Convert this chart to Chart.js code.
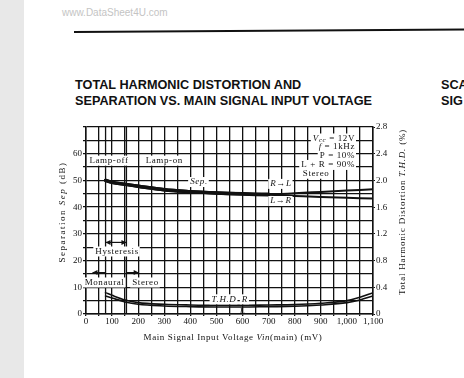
<!DOCTYPE html>
<html>
<head>
<meta charset="utf-8">
<script src="https://cdn.jsdelivr.net/npm/chart.js@4/dist/chart.umd.min.js"></script>
<style>
    html, body { margin: 0; padding: 0; background: #fff; }
    body { width: 464px; height: 378px; position: relative; overflow: hidden; }
    #strip { position: absolute; left: 0; top: 0; width: 24px; height: 378px; background: #e8e8e8; }
    #wm { position: absolute; left: 62px; top: 7px; font: 10px "Liberation Sans", Arial, sans-serif; color: #c4c4c4; }
    #rule { position: absolute; left: 74px; top: 31px; width: 400px; height: 2px; background: #111; transform: rotate(-0.35deg); transform-origin: left center; }
    .title { position: absolute; font: bold 12.7px/12px "Liberation Sans", Arial, sans-serif; color: #111; white-space: nowrap; }
    canvas { position: absolute; left: 0; top: 0; }
</style>
</head>
<body>
<div id="strip"></div>
<div id="wm">www.DataSheet4U.com</div>
<div id="rule"></div>
<div class="title" style="left:75px;top:79px">TOTAL HARMONIC DISTORTION AND</div>
<div class="title" style="left:75px;top:95px">SEPARATION VS. MAIN SIGNAL INPUT VOLTAGE</div>
<div class="title" style="left:441px;top:79px">SCA</div>
<div class="title" style="left:441px;top:95px">SIG</div>
<canvas id="chart" width="464" height="378"></canvas>
<script>
// separation (dB) vs Vin(main) (mV), the two directions split after ~700 mV
const vinSep = [75, 100, 150, 200, 300, 400, 500, 600, 700, 800, 900, 1000, 1100];
const sepRtoL = [50, 49.3, 48.5, 47.8, 46.5, 45.8, 45.3, 45.0, 44.8, 45.2, 45.7, 46.2, 46.7];
const sepLtoR = [50, 49.3, 48.5, 47.8, 46.5, 45.8, 45.3, 44.9, 44.6, 44.2, 43.8, 43.5, 43.2];

// total harmonic distortion (%) vs Vin(main) (mV)
const vinThd = [75, 100, 150, 200, 300, 400, 500, 600, 700, 800, 900, 1000, 1050, 1100];
const thdR = [0.32, 0.28, 0.21, 0.17, 0.145, 0.135, 0.13, 0.13, 0.135, 0.14, 0.16, 0.2, 0.25, 0.32];
const thdL = [0.27, 0.24, 0.18, 0.145, 0.12, 0.11, 0.105, 0.105, 0.11, 0.115, 0.135, 0.17, 0.21, 0.27];

// lamp / mono-stereo switching thresholds (mV)
const switchPoints = [75, 155];

const xTickLabels = ['0', '100', '200', '300', '400', '500', '600', '700', '800', '900', '1,000', '1,100'];
const sepTickLabels = ['0', '10', '20', '30', '40', '50', '60'];
const thdTickLabels = ['0', '0.4', '0.8', '1.2', '1.6', '2.0', '2.4', '2.8'];

const SERIF = '"Liberation Serif", "DejaVu Serif", serif';
const F = `9px ${SERIF}`;
const FI = `italic 9px ${SERIF}`;
const FS = `italic 7px ${SERIF}`;
const INK = '#111';

const toPoints = (xs, ys) => xs.map((x, i) => ({ x: x, y: ys[i] }));

function rich(ctx, parts, x, y, align, box, spacing) {
    ctx.letterSpacing = (spacing === undefined ? 0.6 : spacing) + 'px';
    let w = 0;
    const widths = parts.map(p => {
        ctx.font = p[1];
        const pw = ctx.measureText(p[0]).width;
        w += pw;
        return pw;
    });
    let x0 = align === 'center' ? x - w / 2 : align === 'right' ? x - w : x;
    if (box) {
        ctx.fillStyle = '#fff';
        ctx.fillRect(x0 - 2, y - 5, w + 3, 10);
    }
    ctx.fillStyle = INK;
    ctx.textAlign = 'left';
    ctx.textBaseline = 'middle';
    parts.forEach((p, i) => {
        ctx.font = p[1];
        ctx.fillText(p[0], x0, y + (p[2] || 0));
        x0 += widths[i];
    });
    ctx.letterSpacing = '0px';
}

function arrow(ctx, x1, y, x2) {
    ctx.beginPath();
    ctx.moveTo(x1, y);
    ctx.lineTo(x2, y);
    ctx.stroke();
    const d = Math.sign(x2 - x1);
    ctx.beginPath();
    ctx.moveTo(x2, y);
    ctx.lineTo(x2 - d * 5, y - 2.5);
    ctx.lineTo(x2 - d * 5, y + 2.5);
    ctx.closePath();
    ctx.fill();
}

const notes = {
    id: 'notes',
    beforeDatasetsDraw(chart) {
        const { ctx, chartArea: a, scales: { x } } = chart;
        ctx.save();
        ctx.strokeStyle = INK;
        ctx.lineWidth = 1.3;
        switchPoints.forEach(v => {
            const px = x.getPixelForValue(v);
            ctx.beginPath();
            ctx.moveTo(px, a.top);
            ctx.lineTo(px, a.bottom);
            ctx.stroke();
        });
        ctx.restore();
    },
    afterDatasetsDraw(chart) {
        const { ctx, scales: { x, y, y2 } } = chart;
        const px = v => x.getPixelForValue(v);
        const py = v => y.getPixelForValue(v);
        ctx.save();

        rich(ctx, [['Lamp-off', F]], px(88), py(57.4), 'center', true);
        rich(ctx, [['Lamp-on', F]], px(300), py(57.4), 'center', true);
        rich(ctx, [['Sep.', FI]], px(433), py(49.4), 'center', true);
        rich(ctx, [['R', FI], ['\u2192', F], ['L', FI]], px(747), py(48.7), 'center', true);
        rich(ctx, [['L', FI], ['\u2192', F], ['R', FI]], px(747), py(42.3), 'center', true);

        // test conditions
        const cx = px(1031);
        rich(ctx, [['V', FI], ['cc', FS, 1.5], [' = 12V', F]], cx, py(65.7), 'right', true);
        rich(ctx, [['f', FI], [' = 1kHz', F]], cx, py(62.6), 'right', true);
        rich(ctx, [['P = 10%', F]], cx, py(59.2), 'right', true);
        rich(ctx, [['L + R = 90%', F]], cx, py(55.8), 'right', true);
        rich(ctx, [['Stereo', F]], px(831), py(52.5), 'left', true);

        // hysteresis and mode arrows
        ctx.strokeStyle = INK;
        ctx.fillStyle = INK;
        ctx.lineWidth = 1.2;
        const ha = py(26.8), hm = (px(switchPoints[0]) + px(switchPoints[1])) / 2;
        arrow(ctx, hm, ha, px(switchPoints[0]));
        arrow(ctx, hm, ha, px(switchPoints[1]));
        rich(ctx, [['Hysteresis', F]], px(119), py(23.4), 'center', true);
        const ma = py(15.5);
        arrow(ctx, px(switchPoints[0]), ma, px(25));
        arrow(ctx, px(switchPoints[1]), ma, px(202));
        rich(ctx, [['Monaural', F]], px(71), py(11.8), 'center', true);
        rich(ctx, [['Stereo', F]], px(228), py(11.8), 'center', true);

        rich(ctx, [['T.H.D', FI]], px(529), y2.getPixelForValue(0.22), 'center', true);
        rich(ctx, [['R', FI]], px(609), y2.getPixelForValue(0.22), 'center', true);
        rich(ctx, [['L', FI]], px(600), y2.getPixelForValue(0.03), 'center', false);

        // axis titles
        ctx.save();
        ctx.translate(63, 212);
        ctx.rotate(-Math.PI / 2);
        rich(ctx, [['Separation ', F], ['Sep', FI], [' (dB)', F]], 0, 0, 'center', false, 1.5);
        ctx.restore();
        ctx.save();
        ctx.translate(403, 212);
        ctx.rotate(-Math.PI / 2);
        rich(ctx, [['Total Harmonic Distortion ', F], ['T.H.D.', FI], [' (%)', F]], 0, 0, 'center', false, 0.8);
        ctx.restore();
        rich(ctx, [['Main Signal Input Voltage ', F], ['Vin', FI], ['(main) (mV)', F]], 233, 338, 'center', false, 0.6);

        ctx.restore();
    }
};

const lineStyle = {
    borderColor: INK,
    pointRadius: 0,
    fill: false,
    cubicInterpolationMode: 'monotone',
    borderCapStyle: 'round',
};

new Chart(document.getElementById('chart'), {
    type: 'line',
    data: {
        datasets: [
            {
                ...lineStyle,
                label: 'Sep R\u2192L',
                data: toPoints(vinSep, sepRtoL),
                segment: { borderWidth: c => (c.p0.parsed.x < 700 ? 3.4 : 2) },
                yAxisID: 'y',
            },
            {
                ...lineStyle,
                label: 'Sep L\u2192R',
                data: toPoints(vinSep, sepLtoR),
                segment: { borderWidth: c => (c.p0.parsed.x < 700 ? 3.4 : 2) },
                yAxisID: 'y',
            },
            {
                ...lineStyle,
                label: 'THD R',
                data: toPoints(vinThd, thdR),
                borderWidth: 1.6,
                yAxisID: 'y2',
            },
            {
                ...lineStyle,
                label: 'THD L',
                data: toPoints(vinThd, thdL),
                borderWidth: 1.6,
                yAxisID: 'y2',
            },
        ],
    },
    options: {
        responsive: false,
        animation: false,
        layout: { padding: { left: 46, right: 51, top: 127, bottom: 30 } },
        plugins: {
            legend: { display: false },
            tooltip: { enabled: false },
        },
        scales: {
            x: {
                type: 'linear',
                min: 0,
                max: 1100,
                afterFit: s => { s.height = 34; },
                grid: { color: INK, lineWidth: 1.3, tickLength: 2 },
                border: { color: INK, width: 1.5 },
                ticks: {
                    stepSize: 50,
                    autoSkip: false,
                    maxRotation: 0,
                    padding: 0,
                    color: INK,
                    font: { family: SERIF, size: 9 },
                    callback: v => (v % 100 === 0 ? xTickLabels[v / 100] : ''),
                },
            },
            y: {
                position: 'left',
                min: 0,
                max: 70,
                afterFit: s => { s.width = 40; },
                grid: { color: INK, lineWidth: 1.3, tickLength: 3 },
                border: { color: INK, width: 1.5 },
                ticks: {
                    stepSize: 5,
                    autoSkip: false,
                    padding: 1,
                    color: INK,
                    font: { family: SERIF, size: 9 },
                    callback: v => (v % 10 === 0 && v < 70 ? sepTickLabels[v / 10] : ''),
                },
            },
            y2: {
                position: 'right',
                min: 0,
                max: 2.8,
                afterFit: s => { s.width = 40; },
                grid: { drawOnChartArea: false, color: INK, tickLength: 2 },
                border: { color: INK, width: 1.5 },
                ticks: {
                    stepSize: 0.4,
                    autoSkip: false,
                    padding: 1,
                    color: INK,
                    font: { family: SERIF, size: 9 },
                    callback: v => thdTickLabels[Math.round(v / 0.4)],
                },
            },
        },
    },
    plugins: [notes],
});
</script>
</body>
</html>
